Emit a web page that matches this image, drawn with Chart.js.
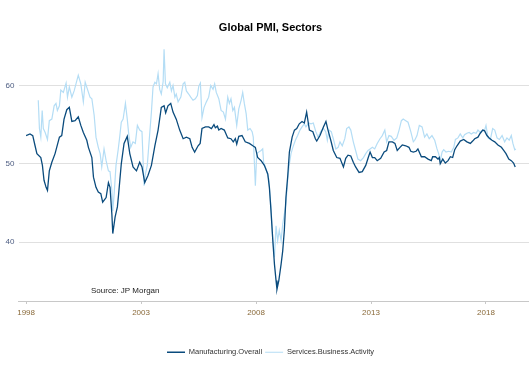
<!DOCTYPE html>
<html>
<head>
<meta charset="utf-8">
<script src="https://cdn.jsdelivr.net/npm/chart.js@4/dist/chart.umd.min.js"></script>
<style>
  html, body { margin: 0; padding: 0; background: #fff; }
  #pmiChart { display: block; }
</style>
</head>
<body>
<canvas id="pmiChart" width="529" height="377"></canvas>
<script>
const yearTicks = [1998, 2003, 2008, 2013, 2018];
const valueTicks = [40, 50, 60];

const mfgYears = [
  1998.00, 1998.17, 1998.29, 1998.39, 1998.47, 1998.64, 1998.71, 1998.78, 1998.87, 1998.93,
  1999.01, 1999.12, 1999.26, 1999.45, 1999.55, 1999.65, 1999.77, 1999.88, 1999.99,
  2000.13, 2000.27, 2000.38, 2000.49, 2000.64, 2000.71, 2000.86, 2000.93,
  2001.04, 2001.14, 2001.25, 2001.33, 2001.48, 2001.58, 2001.65, 2001.73, 2001.77, 2001.87, 2001.97,
  2002.02, 2002.14, 2002.26, 2002.40, 2002.51, 2002.65, 2002.80, 2002.94,
  2003.04, 2003.16, 2003.30, 2003.45, 2003.60, 2003.74, 2003.88,
  2004.00, 2004.07, 2004.17, 2004.29, 2004.39, 2004.53, 2004.68, 2004.83, 2004.97,
  2005.12, 2005.22, 2005.33, 2005.48, 2005.57, 2005.65, 2005.80, 2005.94,
  2006.06, 2006.17, 2006.23, 2006.32, 2006.38, 2006.48, 2006.62, 2006.77, 2006.91,
  2007.01, 2007.10, 2007.16, 2007.25, 2007.39, 2007.53, 2007.71, 2007.86, 2007.97,
  2008.07, 2008.22, 2008.36, 2008.51, 2008.58, 2008.65, 2008.73, 2008.80, 2008.87, 2008.91, 2008.99,
  2009.09, 2009.16, 2009.23, 2009.30, 2009.38, 2009.45, 2009.57, 2009.67, 2009.77, 2009.88,
  2010.00, 2010.10, 2010.20, 2010.32, 2010.47, 2010.58, 2010.64, 2010.78, 2010.93,
  2011.04, 2011.13, 2011.25, 2011.36, 2011.51, 2011.65, 2011.80, 2011.90,
  2012.00, 2012.12, 2012.23, 2012.33, 2012.48, 2012.62, 2012.77, 2012.87, 2012.96,
  2013.06, 2013.16, 2013.27, 2013.42, 2013.57, 2013.68, 2013.78, 2013.93,
  2014.04, 2014.14, 2014.26, 2014.36, 2014.51, 2014.65, 2014.73, 2014.84, 2014.96,
  2015.04, 2015.19, 2015.33, 2015.48, 2015.62, 2015.68, 2015.80, 2015.91, 2015.97,
  2016.01, 2016.12, 2016.23, 2016.35, 2016.45, 2016.55, 2016.64, 2016.74, 2016.88,
  2017.03, 2017.17, 2017.32, 2017.42, 2017.51, 2017.65, 2017.75, 2017.86, 2017.94,
  2018.04, 2018.14, 2018.26, 2018.38, 2018.52, 2018.67, 2018.77, 2018.87, 2018.99,
  2019.10, 2019.20, 2019.27
];
const mfgValues = [
  53.6, 53.8, 53.6, 52.3, 51.3, 50.8, 49.8, 47.9, 47.0, 46.6,
  49.1, 50.2, 51.3, 53.4, 53.6, 55.7, 56.9, 57.2, 55.4,
  55.5, 56.0, 54.9, 54.0, 53.0, 52.1, 50.8, 48.3,
  47.0, 46.4, 46.2, 45.1, 45.7, 47.6, 47.0, 43.6, 41.1, 43.2, 44.5,
  46.0, 50.0, 52.6, 53.5, 51.3, 49.6, 49.1, 50.2,
  49.6, 47.6, 48.5, 49.8, 52.3, 54.3, 57.2,
  57.4, 56.5, 57.4, 57.7, 56.6, 55.7, 54.3, 53.2, 53.4,
  53.2, 52.1, 51.5, 52.3, 52.6, 54.5, 54.7, 54.7,
  54.5, 55.0, 54.6, 54.8, 54.3, 54.5, 54.3, 53.3, 53.2,
  52.8, 53.2, 52.5, 53.5, 53.6, 52.8, 52.6, 52.3, 52.1,
  50.8, 50.4, 49.8, 48.7, 47.0, 44.0, 40.2, 37.2, 35.1, 34.0, 35.1,
  37.2, 38.9, 41.5, 45.7, 48.5, 51.5, 53.4, 54.3, 54.5, 55.1,
  55.4, 55.2, 56.6, 54.3, 54.1, 53.2, 52.9, 53.6, 54.7,
  55.4, 54.3, 53.0, 51.7, 50.8, 50.7, 49.6, 50.7,
  51.1, 51.0, 50.2, 49.6, 48.9, 49.0, 49.8, 50.7, 51.5,
  50.8, 50.8, 50.4, 50.7, 51.5, 51.7, 52.8, 52.8,
  52.6, 51.7, 52.1, 52.4, 52.3, 52.1, 51.6, 51.5, 51.6,
  51.9, 50.9, 50.9, 50.6, 50.4, 50.9, 50.9, 50.6, 50.8,
  50.0, 50.6, 50.1, 50.4, 50.9, 50.8, 51.8, 52.3, 52.9,
  53.1, 52.8, 52.6, 52.9, 53.2, 53.4, 53.9, 54.3, 54.2,
  53.6, 53.3, 53.0, 52.8, 52.4, 52.1, 51.7, 51.3, 50.6,
  50.4, 50.1, 49.6
];

const svcYears = [
  1998.53, 1998.58, 1998.64, 1998.70, 1998.75, 1998.83, 1998.93,
  1999.01, 1999.12, 1999.22, 1999.30, 1999.36, 1999.45, 1999.51, 1999.62, 1999.74, 1999.80, 1999.88, 1999.99,
  2000.09, 2000.17, 2000.27, 2000.38, 2000.49, 2000.57, 2000.67, 2000.78, 2000.86, 2000.96,
  2001.04, 2001.14, 2001.22, 2001.29, 2001.39, 2001.48, 2001.58, 2001.65, 2001.73, 2001.77, 2001.83, 2001.91,
  2002.00, 2002.07, 2002.14, 2002.22, 2002.32, 2002.40, 2002.47, 2002.55, 2002.65, 2002.75, 2002.84, 2002.94,
  2003.04, 2003.13, 2003.19, 2003.27, 2003.38, 2003.45, 2003.52, 2003.60, 2003.67, 2003.74, 2003.81, 2003.88, 2003.96,
  2004.00, 2004.06, 2004.14, 2004.25, 2004.32, 2004.39, 2004.47, 2004.53, 2004.61, 2004.73, 2004.83, 2004.90, 2004.97,
  2005.07, 2005.16, 2005.26, 2005.36, 2005.45, 2005.51, 2005.58, 2005.65, 2005.74, 2005.84, 2005.94,
  2006.03, 2006.13, 2006.20, 2006.27, 2006.38, 2006.48, 2006.58, 2006.67, 2006.77, 2006.84, 2006.91, 2006.99,
  2007.06, 2007.16, 2007.25, 2007.35, 2007.42, 2007.49, 2007.57, 2007.64, 2007.74, 2007.83, 2007.88, 2007.93, 2007.97,
  2008.03, 2008.12, 2008.22, 2008.29, 2008.33, 2008.43, 2008.55, 2008.65, 2008.72, 2008.80, 2008.87, 2008.94,
  2009.01, 2009.09, 2009.16, 2009.23, 2009.30, 2009.38, 2009.45, 2009.52, 2009.60, 2009.71, 2009.81, 2009.91,
  2010.00, 2010.10, 2010.17, 2010.29, 2010.39, 2010.49, 2010.60, 2010.70, 2010.81, 2010.93,
  2011.03, 2011.10, 2011.17, 2011.27, 2011.36, 2011.47, 2011.57, 2011.65, 2011.75, 2011.86, 2011.94,
  2012.04, 2012.12, 2012.23, 2012.33, 2012.43, 2012.55, 2012.67, 2012.77, 2012.87, 2012.96,
  2013.06, 2013.16, 2013.27, 2013.39, 2013.49, 2013.60, 2013.68, 2013.78, 2013.88,
  2014.00, 2014.12, 2014.22, 2014.32, 2014.40, 2014.51, 2014.61, 2014.73, 2014.84, 2014.90,
  2015.00, 2015.10, 2015.22, 2015.33, 2015.43, 2015.53, 2015.65, 2015.77, 2015.87, 2015.94,
  2016.01, 2016.09, 2016.16, 2016.26, 2016.38, 2016.49, 2016.60, 2016.67, 2016.78, 2016.88, 2016.99,
  2017.07, 2017.17, 2017.27, 2017.36, 2017.46, 2017.57, 2017.65, 2017.75, 2017.86, 2017.94,
  2018.00, 2018.09, 2018.19, 2018.29, 2018.38, 2018.48, 2018.58, 2018.70, 2018.81, 2018.91,
  2019.01, 2019.10, 2019.17, 2019.25, 2019.30
];
const svcValues = [
  58.1, 54.5, 53.4, 56.8, 54.5, 54.0, 53.1,
  55.5, 55.7, 57.4, 57.7, 56.8, 57.4, 59.4, 59.1, 60.3, 58.5, 59.8, 58.5,
  59.3, 60.2, 61.3, 60.2, 57.9, 60.4, 59.5, 58.5, 58.3, 56.2,
  53.4, 52.1, 51.3, 49.6, 51.9, 50.4, 49.1, 49.0, 46.6, 44.0, 46.2, 49.8,
  51.7, 53.4, 55.3, 55.7, 57.7, 55.7, 53.6, 52.1, 52.8, 52.6, 54.9, 54.3,
  54.1, 47.2, 48.7, 49.8, 54.0, 56.6, 59.8, 60.4, 60.2, 61.5, 59.5, 58.9, 60.5,
  64.6, 60.2, 59.7, 60.4, 59.3, 60.0, 58.5, 58.9, 57.9, 58.5, 60.2, 60.4, 59.3,
  58.9, 58.5, 58.1, 58.3, 58.7, 59.9, 60.3, 55.9, 57.2, 57.9, 58.5,
  60.0, 59.5, 60.2, 59.1, 58.3, 56.8, 56.6, 55.7, 58.5, 57.7, 58.3, 56.8,
  57.2, 54.9, 57.0, 58.1, 59.1, 57.7, 56.4, 54.3, 54.5, 54.1, 53.4, 50.0, 47.2,
  51.3, 51.5, 51.7, 51.9, 50.2, 49.4, 48.1, 44.5, 40.6, 38.1, 42.1, 40.2,
  41.5, 40.2, 42.3, 43.6, 44.9, 48.1, 50.0, 51.3, 52.1, 53.0, 53.6, 54.3,
  54.7, 55.1, 54.7, 55.2, 55.1, 55.2, 54.1, 53.4, 54.1, 54.5,
  54.1, 53.0, 54.3, 54.1, 53.2, 51.9, 52.1, 52.8, 52.3, 53.2, 54.5,
  54.7, 54.3, 52.8, 51.7, 50.6, 50.4, 50.8, 51.3, 51.7, 51.9,
  52.1, 51.9, 52.6, 53.2, 53.6, 54.3, 52.8, 53.6, 53.5,
  53.0, 53.3, 54.3, 55.5, 55.7, 55.5, 55.3, 54.1, 52.8, 53.0,
  53.6, 54.9, 54.7, 53.4, 53.8, 53.2, 53.6, 53.0, 51.9, 51.3,
  50.4, 51.5, 51.8, 51.5, 51.6, 51.5, 52.1, 53.1, 53.3, 53.8, 53.3,
  53.7, 53.9, 54.0, 53.8, 54.0, 53.9, 54.3, 54.0, 54.3, 54.3,
  54.9, 53.3, 53.1, 54.5, 54.3, 53.3, 53.1, 53.6, 52.8, 53.3,
  53.0, 53.6, 52.6, 51.8, 51.9
];

const toPoints = (xs, ys) => xs.map((x, i) => ({ x: x, y: ys[i] }));

const sourceNote = {
  id: "sourceNote",
  afterDraw(chart) {
    const ctx = chart.ctx;
    ctx.save();
    ctx.font = "8px 'Liberation Sans', Arial, sans-serif";
    ctx.fillStyle = "#222";
    ctx.textAlign = "left";
    ctx.textBaseline = "middle";
    ctx.fillText("Source: JP Morgan", 91, 290.5);
    ctx.restore();
  },
};

Chart.defaults.font.family = "'Liberation Sans', Arial, sans-serif";

new Chart(document.getElementById("pmiChart"), {
  type: "line",
  data: {
    datasets: [
      {
        label: "Manufacturing.Overall",
        data: toPoints(mfgYears, mfgValues),
        borderColor: "#0a4b7d",
        backgroundColor: "#0a4b7d",
        borderWidth: 1.3,
        pointRadius: 0,
        tension: 0,
      },
      {
        label: "Services.Business.Activity",
        data: toPoints(svcYears, svcValues),
        borderColor: "#b4ddf5",
        backgroundColor: "#b4ddf5",
        borderWidth: 1.2,
        pointRadius: 0,
        tension: 0,
      },
    ],
  },
  options: {
    responsive: false,
    animation: false,
    layout: { padding: { left: 12, right: 0, top: 0, bottom: 11 } },
    plugins: {
      title: {
        display: true,
        text: "Global PMI, Sectors",
        color: "#000",
        font: { size: 11, weight: "bold" },
        padding: { top: 21, bottom: 12 },
      },
      legend: {
        position: "bottom",
        labels: {
          color: "#333",
          font: { size: 7.5 },
          usePointStyle: true,
          pointStyle: "line",
          pointStyleWidth: 18,
          padding: 3,
        },
      },
      tooltip: { enabled: false },
    },
    scales: {
      x: {
        type: "linear",
        min: 1997.67,
        max: 2019.87,
        afterBuildTicks: (axis) => {
          axis.ticks = yearTicks.map((v) => ({ value: v }));
        },
        afterFit: (axis) => {
          axis.height = 44.5;
        },
        ticks: {
          color: "#8a6a3a",
          font: { size: 8 },
          padding: 4,
          maxRotation: 0,
          callback: (v) => String(v),
        },
        grid: {
          drawOnChartArea: false,
          drawTicks: true,
          tickLength: 3,
          color: "#c8c8c8",
        },
        border: { color: "#c8c8c8", width: 1 },
      },
      y: {
        min: 32.5,
        max: 65,
        afterBuildTicks: (axis) => {
          axis.ticks = valueTicks.map((v) => ({ value: v }));
        },
        afterFit: (axis) => {
          axis.width = 6.5;
        },
        ticks: {
          color: "#4d5d82",
          font: { size: 8 },
          mirror: true,
          crossAlign: "far",
          padding: -13,
        },
        grid: {
          color: "#e0e0e0",
          drawTicks: false,
        },
        border: { display: false },
      },
    },
  },
  plugins: [sourceNote],
});
</script>
</body>
</html>
